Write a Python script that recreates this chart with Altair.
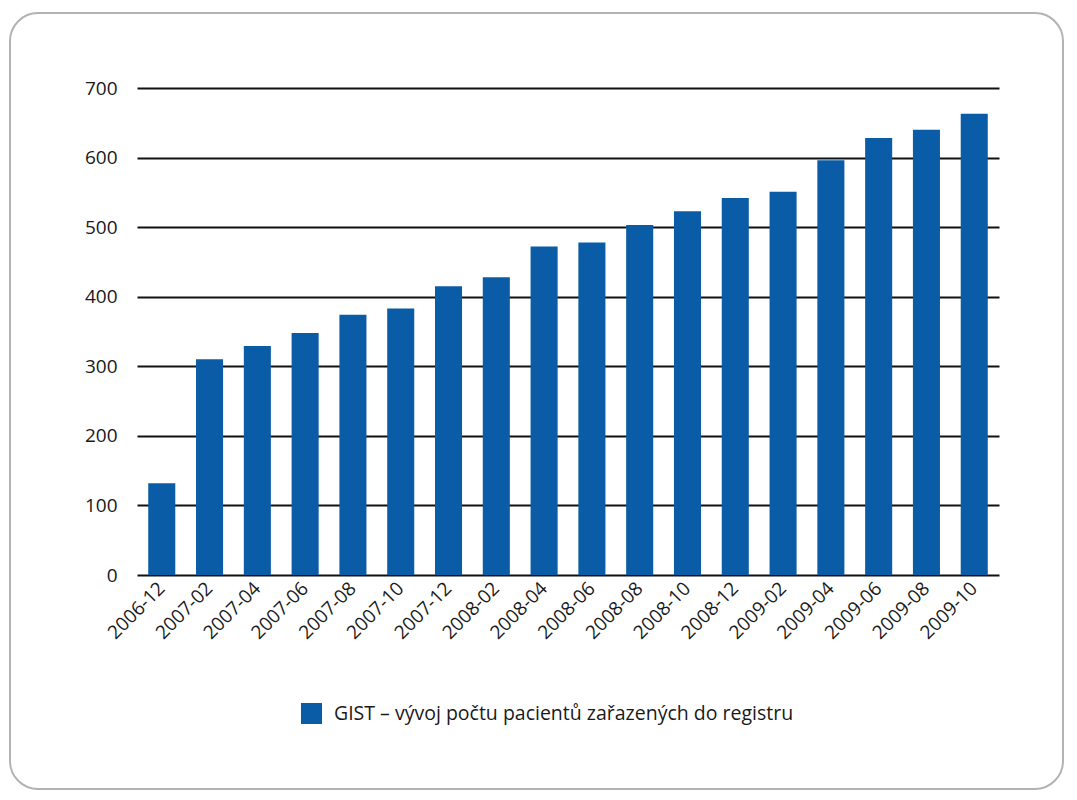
import altair as alt
import pandas as pd

months = ["2006-12", "2007-02", "2007-04", "2007-06", "2007-08", "2007-10",
          "2007-12", "2008-02", "2008-04", "2008-06", "2008-08", "2008-10",
          "2008-12", "2009-02", "2009-04", "2009-06", "2009-08", "2009-10"]
counts = [132, 310, 329, 348, 374, 383, 415, 428, 472, 478, 503, 523,
          542, 551, 596, 628, 640, 663]
series_name = "GIST – vývoj počtu pacientů zařazených do registru"
y_ticks = [0, 100, 200, 300, 400, 500, 600, 700]

df = pd.DataFrame({"month": months, "count": counts, "series": [series_name] * len(months)})

FONT = "Open Sans"

bars = alt.Chart(df).mark_bar().encode(
    x=alt.X("month:N", sort=months, title=None,
            scale=alt.Scale(paddingInner=0.434, paddingOuter=0.235),
            axis=alt.Axis(labelAngle=-45, labelAlign="right", labelBaseline="middle",
                          ticks=False, domain=False, labelPadding=10,
                          labelFontSize=19, labelFont=FONT, labelColor="#1a1a1a")),
    y=alt.Y("count:Q", title=None, scale=alt.Scale(domain=[0, 700], nice=False),
            axis=alt.Axis(values=y_ticks, grid=True, gridColor="#111111", gridWidth=2,
                          domain=False, ticks=False, labelPadding=20,
                          labelFontSize=19, labelFont=FONT, labelColor="#1a1a1a")),
    color=alt.Color("series:N",
                    scale=alt.Scale(domain=[series_name], range=["#0B5CA6"]),
                    legend=alt.Legend(orient="none", legendX=164, legendY=615, title=None,
                                      symbolType="square", symbolSize=440,
                                      symbolStrokeWidth=0, labelFontSize=19.5,
                                      labelFont=FONT, labelColor="#1a1a1a",
                                      labelOffset=12, padding=0, labelLimit=800)),
)

frame = alt.Chart(pd.DataFrame({"f": [0]})).mark_rect(
    fill="white", fillOpacity=0, stroke="#b3b3b3", strokeWidth=2, cornerRadius=28
).encode(
    x=alt.value(-127), x2=alt.value(926),
    y=alt.value(-75), y2=alt.value(701),
)

chart = alt.layer(frame, bars).properties(
    width=862, height=487,
    autosize=alt.AutoSizeParams(type="none"),
    padding={"left": 129, "top": 80, "right": 70, "bottom": 220},
).configure_view(stroke=None)

chart.save("out.html", embed_options={"renderer": "svg", "actions": False})
